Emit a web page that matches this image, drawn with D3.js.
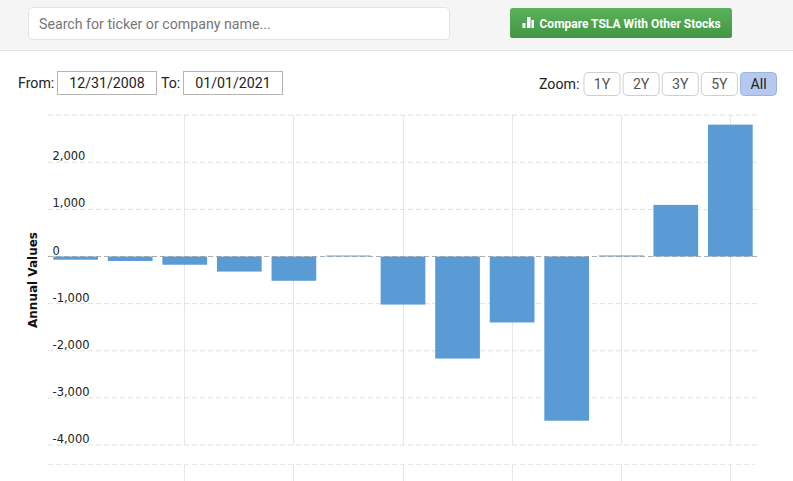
<!DOCTYPE html>
<html><head><meta charset="utf-8">
<script src="https://cdn.jsdelivr.net/npm/d3@7"></script>
<style>
html,body{margin:0;padding:0;background:#fff;width:793px;height:481px;overflow:hidden}
svg{display:block;position:absolute;left:0;top:0}
text{font-family:Roboto,"Liberation Sans",sans-serif}
</style></head><body><svg id="c" width="793" height="481"></svg>
<script>
const years=[2008,2009,2010,2011,2012,2013,2014,2015,2016,2017,2018,2019,2020];
const annualValues=[-68,-95,-175,-320,-515,20,-1020,-2165,-1400,-3485,22,1095,2798];
const yTicks=[3000,2000,1000,0,-1000,-2000,-3000,-4000];
const yLabels=[2000,1000,0,-1000,-2000,-3000,-4000];
const xGridYears=[2010,2012,2014,2016,2018,2020];
const zoomLabels=["1Y","2Y","3Y","5Y","All"];

const svg=d3.select("#c");
const defs=svg.append("defs");
const g=defs.append("linearGradient").attr("id","btn").attr("x1",0).attr("y1",0).attr("x2",0).attr("y2",1);
g.append("stop").attr("offset","0").attr("stop-color","#5cb25c");
g.append("stop").attr("offset","1").attr("stop-color","#419641");

// header
svg.append("rect").attr("width",793).attr("height",50.5).attr("fill","#f5f5f5");
svg.append("line").attr("x1",0).attr("x2",793).attr("y1",50.5).attr("y2",50.5).attr("stroke","#e3e3e3");
svg.append("rect").attr("x",28.5).attr("y",7.5).attr("width",421).attr("height",32).attr("rx",4).attr("fill","#fff").attr("stroke","#e2e2e2");
svg.append("text").attr("x",39).attr("y",28.5).attr("font-size",14.2).attr("fill","#777").text("Search for ticker or company name...");
svg.append("rect").attr("x",510).attr("y",8).attr("width",222).attr("height",30).attr("rx",2.5).attr("fill","url(#btn)");
const ic=svg.append("g").attr("fill","#fff");
[[522.5,3,5],[527,3.5,11],[531.5,2.5,8]].forEach(d=>ic.append("rect").attr("x",d[0]).attr("y",28-d[2]).attr("width",d[1]).attr("height",d[2]));
svg.append("text").attr("x",539.5).attr("y",27.5).attr("font-size",12).attr("font-weight",700).attr("fill","#fff").text("Compare TSLA With Other Stocks");

// range controls
const label=(x,t)=>svg.append("text").attr("x",x).attr("y",88).attr("font-size",14.2).attr("fill","#222").text(t);
label(18,"From:");label(161,"To:");
[[57.5,"12/31/2008"],[183.5,"01/01/2021"]].forEach(([x,t])=>{
  svg.append("rect").attr("x",x).attr("y",71.5).attr("width",99).attr("height",23).attr("fill","#fff").attr("stroke","#b5b5b5");
  svg.append("text").attr("x",x+49.5).attr("y",88).attr("text-anchor","middle").attr("font-size",14.2).attr("fill","#222").text(t);
});
svg.append("text").attr("x",539).attr("y",89).attr("font-size",14.2).attr("fill","#222").text("Zoom:");
const zoomX=d3.scalePoint().domain(zoomLabels).range([602,758.5]);
zoomLabels.forEach(t=>{
  const on=t==="All";
  svg.append("rect").attr("x",zoomX(t)-18).attr("y",72.5).attr("width",36).attr("height",23).attr("rx",4)
    .attr("fill",on?"#b5c9ef":"#fff").attr("stroke",on?"#9db3de":"#cfcfcf");
  svg.append("text").attr("x",zoomX(t)).attr("y",89).attr("text-anchor","middle").attr("font-size",14.2)
    .attr("fill",on?"#222":"#555").text(t);
});

// scales
const y=d3.scaleLinear().domain([0,-4000]).range([256.5,445]);
const x=d3.scaleBand().domain(years).range([48.37,757.63]).paddingInner(0.1807).paddingOuter(0.0904);
const cx=d=>Math.floor(x(d)+x.bandwidth()/2)+.5;

// vertical grid
const vg=svg.append("g").attr("stroke","#e6e6e6");
xGridYears.forEach(d=>{
  vg.append("line").attr("x1",cx(d)).attr("x2",cx(d)).attr("y1",115).attr("y2",445);
  vg.append("line").attr("x1",cx(d)).attr("x2",cx(d)).attr("y1",464).attr("y2",481);
});
// horizontal grid
const hg=svg.append("g");
yTicks.forEach(v=>{
  hg.append("line").attr("x1",48).attr("x2",758).attr("y1",y(v)).attr("y2",y(v))
   .attr("stroke","#e0e0e0").attr("stroke-dasharray","5,3");
});
hg.append("line").attr("x1",48).attr("x2",755).attr("y1",464.5).attr("y2",464.5).attr("stroke","#e8e8e8").attr("stroke-dasharray","5,3");

// bars
svg.append("g").selectAll("rect").data(annualValues).join("rect")
  .attr("x",(d,i)=>x(years[i])).attr("width",x.bandwidth())
  .attr("y",d=>Math.min(y(d),y(0))).attr("height",d=>Math.abs(y(d)-y(0)))
  .attr("fill","#5b9bd5");
svg.append("line").attr("x1",48).attr("x2",758).attr("y1",y(0)).attr("y2",y(0)).attr("stroke","#999").attr("stroke-dasharray","5,3").attr("stroke-opacity",.7);

// y labels
svg.append("g").selectAll("text").data(yLabels).join("text")
  .attr("x",52.5).attr("y",d=>y(d)-2).attr("font-size",11.5)
  .style("font-family","Verdana,'DejaVu Sans',sans-serif").attr("fill","#222")
  .text(d=>d3.format(",")(d).replace("\u2212","-"));
svg.append("text").attr("transform","translate(37,280) rotate(-90)").attr("text-anchor","middle")
  .attr("font-size",12).attr("font-weight",700).style("font-family","Verdana,'DejaVu Sans',sans-serif").attr("fill","#111").text("Annual Values");
</script></body></html>
